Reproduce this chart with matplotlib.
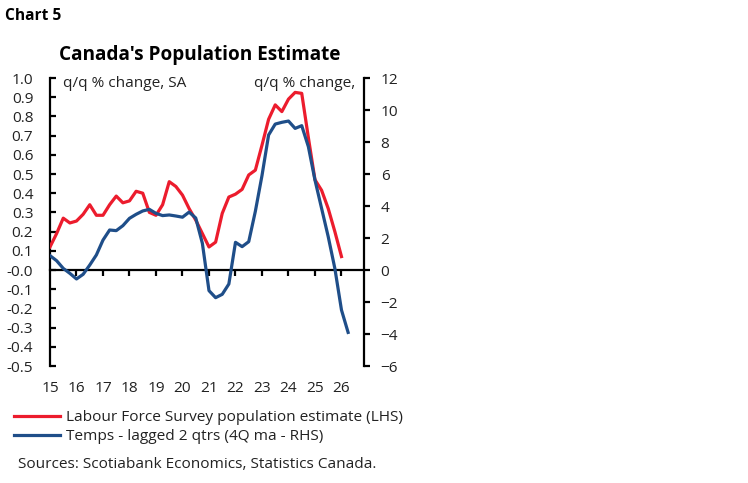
import numpy as np
import matplotlib
matplotlib.use('Agg')
import matplotlib.pyplot as plt
from matplotlib.lines import Line2D

plt.rcParams['font.family'] = ['Open Sans', 'DejaVu Sans']

# quarterly data, first point = 2015Q1
lfs_pop = [0.12, 0.19, 0.27, 0.245, 0.255, 0.29, 0.34, 0.285, 0.285, 0.34,
           0.385, 0.35, 0.36, 0.41, 0.40, 0.30, 0.285, 0.34, 0.46, 0.435,
           0.39, 0.32, 0.26, 0.19, 0.12, 0.145, 0.295, 0.38, 0.395, 0.42,
           0.495, 0.52, 0.65, 0.785, 0.86, 0.825, 0.89, 0.925, 0.92, 0.69,
           0.47, 0.415, 0.32, 0.20, 0.07]
temps = [0.9, 0.58, 0.1, -0.21, -0.56, -0.27, 0.31, 0.94, 1.87, 2.5,
         2.46, 2.77, 3.23, 3.48, 3.69, 3.79, 3.54, 3.40, 3.44, 3.375,
         3.3, 3.62, 3.25, 1.67, -1.29, -1.73, -1.52, -0.875, 1.73, 1.46,
         1.77, 3.67, 5.9, 8.44, 9.12, 9.23, 9.31, 8.85, 9.02, 7.71,
         5.62, 3.85, 2.08, 0.10, -2.5, -3.9]
years = list(range(2015, 2027))
year_labels = [str(y % 100) for y in years]
left_ticks = np.round(np.arange(-0.5, 1.01, 0.1), 1)
right_ticks = list(range(-6, 13, 2))

RED = '#ec1c2d'
BLUE = '#1f4e89'
TXT = '#222222'
FS = 11.1

x_red = 2015 + np.arange(len(lfs_pop)) / 4
x_blue = 2015 + np.arange(len(temps)) / 4

fig = plt.figure(figsize=(7.48, 4.83), dpi=100)
ax = fig.add_axes([50 / 748, 1 - 366 / 483, 314 / 748, 288 / 483])
ax2 = ax.twinx()

ax.plot(x_red, lfs_pop, color=RED, lw=2.3, zorder=3)
ax2.plot(x_blue, temps, color=BLUE, lw=2.3, zorder=3)

ax.set_xlim(2015, 2026.85)
ax.set_ylim(-0.5, 1.0)
ax2.set_ylim(-6, 12)

for a in (ax, ax2):
    a.spines['top'].set_visible(False)
for s in ('left', 'right', 'bottom'):
    ax.spines[s].set_linewidth(1.6)
    ax2.spines[s].set_linewidth(1.6)
ax.spines['right'].set_visible(False)
ax2.spines['left'].set_visible(False)
ax2.spines['bottom'].set_visible(False)
ax.spines['bottom'].set_position(('data', 0))

ax.set_yticks(left_ticks)
ax.set_yticklabels([f'{v:.1f}' for v in left_ticks])
ax.tick_params(axis='y', direction='in', length=4, width=1.6, pad=12,
               labelsize=FS, labelcolor=TXT)
ax2.set_yticks(right_ticks)
ax2.tick_params(axis='y', direction='out', length=4, width=1.6, pad=8,
                labelsize=FS, labelcolor=TXT)

ax.set_xticks(years[1:])
ax.tick_params(axis='x', direction='out', length=4, width=1.6, labelbottom=False)
for y, lab in zip(years, year_labels):
    ax.text(y, -0.615, lab, ha='center', va='center', fontsize=FS,
            color=TXT, clip_on=False)

ax.text(63 / 748, 1 - 83 / 483, 'q/q % change, SA', transform=fig.transFigure,
        ha='left', va='center', fontsize=FS, color=TXT)
ax.text(355 / 748, 1 - 83 / 483, 'q/q % change,', transform=fig.transFigure,
        ha='right', va='center', fontsize=FS, color=TXT)

fig.text(5 / 748, 1 - 16 / 483, 'Chart 5', fontsize=11.2, fontweight='bold',
         ha='left', va='center')
fig.text(200 / 748, 1 - 55 / 483, "Canada's Population Estimate", fontsize=13.7,
         fontweight='bold', ha='center', va='center')

handles = [Line2D([], [], color=RED, lw=2.3), Line2D([], [], color=BLUE, lw=2.3)]
fig.legend(handles, ['Labour Force Survey population estimate (LHS)',
                     'Temps - lagged 2 qtrs (4Q ma - RHS)'],
           loc='upper left', bbox_to_anchor=(8 / 748, 1 - 404 / 483),
           frameon=False, fontsize=FS, handlelength=3.0, handletextpad=0.35,
           labelspacing=0.25, borderaxespad=0, labelcolor=TXT)

fig.text(18 / 748, 1 - 465 / 483, 'Sources: Scotiabank Economics, Statistics Canada.',
         fontsize=FS, ha='left', va='center', color=TXT)

fig.savefig('out.png', dpi=100)
